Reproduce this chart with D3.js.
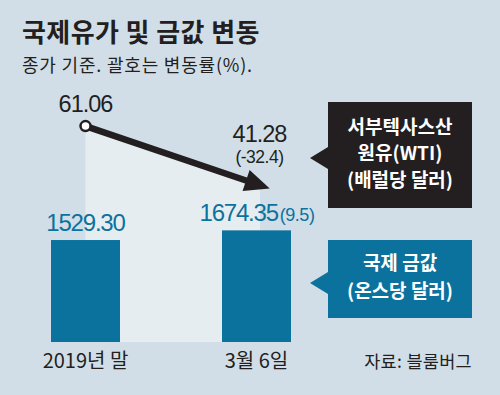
<!DOCTYPE html>
<html><head><meta charset="utf-8">
<script src="https://cdn.jsdelivr.net/npm/d3@7/dist/d3.min.js"></script>
<style>
html,body{margin:0;padding:0;background:#d1dde6;}
svg{display:block;}
</style></head>
<body>
<script>
// ---- data ----
const categories = ["2019년 말", "3월 6일"];
const goldValues = [1529.30, 1674.35];
const goldChange = [null, 9.5];
const oilValues = [61.06, 41.28];
const oilChange = [null, -32.4];
const titleText = "국제유가 및 금값 변동";
const subtitleText = "종가 기준. 괄호는 변동률(%).";
const oilLegend = ["서부텍사스산", "원유(WTI)", "(배럴당 달러)"];
const goldLegend = ["국제 금값", "(온스당 달러)"];
const sourceText = "자료: 블룸버그";

const W = 500, H = 395;
const KR = "'Noto Sans CJK KR', 'Noto Sans', sans-serif";
const NUM = "'Liberation Sans', Arial, sans-serif";
const BLUE = "#0b729e", DARK = "#231f20";

const svg = d3.select("body").append("svg").attr("width", W).attr("height", H);
svg.append("rect").attr("width", W).attr("height", H).attr("fill", "#d2dee7");

const x = d3.scalePoint().domain(categories).range([85.5, 256.5]);
const barW = 69;
const yGold = d3.scaleLinear().domain([0, 5000]).range([342, 8.6]);
const yOil = d3.scaleLinear().domain([0, 100]).range([305, 12]);

// title
svg.append("text").attr("x", 22).attr("y", 42).text(titleText)
  .attr("font-family", KR).attr("font-weight", 700).attr("font-size", 26).attr("letter-spacing", 0.4).attr("fill", DARK);
svg.append("text").attr("x", 22).attr("y", 72).text(subtitleText)
  .attr("font-family", KR).attr("font-size", 18).attr("letter-spacing", 0.8).attr("fill", DARK);

// light area under oil line
const oilPts = categories.map((c, i) => [x(c), yOil(oilValues[i])]);
const area = d3.area().x(d => d[0]).y0(yGold(0)).y1(d => d[1]);
const areaPts = [oilPts[0], [oilPts[1][0] + 3.5, oilPts[1][1] + 3.5 * (oilPts[1][1] - oilPts[0][1]) / (oilPts[1][0] - oilPts[0][0])]];
svg.append("path").attr("d", area(areaPts)).attr("fill", "#e5edf1");

// gold bars
svg.selectAll(".bar").data(goldValues).join("rect")
  .attr("x", (d, i) => x(categories[i]) - barW / 2)
  .attr("y", d => yGold(d))
  .attr("width", barW)
  .attr("height", d => yGold(0) - yGold(d))
  .attr("fill", BLUE);

// gold labels
goldValues.forEach((v, i) => {
  const t = svg.append("text").attr("font-family", NUM).attr("fill", BLUE)
    .attr("y", yGold(v) - 9).attr("font-size", 24).attr("letter-spacing", -1.2);
  if (goldChange[i] == null) {
    t.attr("x", x(categories[i])).attr("text-anchor", "middle").text(v.toFixed(2));
  } else {
    t.attr("x", x(categories[i]) - 57).attr("text-anchor", "start");
    t.append("tspan").text(v.toFixed(2));
    t.append("tspan").attr("font-size", 18).attr("dx", 2).attr("letter-spacing", -0.5).text("(" + goldChange[i].toFixed(1) + ")");
  }
});

// oil arrow
const [p0, p1] = oilPts;
const ang = Math.atan2(p1[1] - p0[1], p1[0] - p0[0]);
const tip = [p1[0] + 14 * Math.cos(ang), p1[1] + 14 * Math.sin(ang)];
const headLen = 25, headHalf = 11;
const base = [tip[0] - headLen * Math.cos(ang), tip[1] - headLen * Math.sin(ang)];
const nx = -Math.sin(ang), ny = Math.cos(ang);
svg.append("line").attr("x1", p0[0]).attr("y1", p0[1]).attr("x2", base[0] + 3 * Math.cos(ang)).attr("y2", base[1] + 3 * Math.sin(ang))
  .attr("stroke", DARK).attr("stroke-width", 6.5);
svg.append("path").attr("d", d3.line()([tip, [base[0] + nx * headHalf, base[1] + ny * headHalf], [base[0] - nx * headHalf, base[1] - ny * headHalf]]) + "Z")
  .attr("fill", DARK);
svg.append("circle").attr("cx", p0[0]).attr("cy", p0[1]).attr("r", 5)
  .attr("fill", "#fff").attr("stroke", DARK).attr("stroke-width", 2.5);

// oil labels
svg.append("text").attr("x", p0[0]).attr("y", p0[1] - 14).attr("text-anchor", "middle")
  .attr("font-family", NUM).attr("font-size", 23.5).attr("letter-spacing", -1).attr("fill", DARK)
  .text(oilValues[0].toFixed(2));
svg.append("text").attr("x", p1[0] + 3).attr("y", 142).attr("text-anchor", "middle")
  .attr("font-family", NUM).attr("font-size", 23.5).attr("letter-spacing", -1).attr("fill", DARK)
  .text(oilValues[1].toFixed(2));
svg.append("text").attr("x", p1[0] + 3).attr("y", 163).attr("text-anchor", "middle")
  .attr("font-family", NUM).attr("font-size", 17.5).attr("letter-spacing", -0.5).attr("fill", DARK)
  .text("(" + oilChange[1].toFixed(1) + ")");

// category labels
svg.selectAll(".cat").data(categories).join("text")
  .attr("x", d => x(d)).attr("y", 368).attr("text-anchor", "middle")
  .attr("font-family", KR).attr("font-size", 20).attr("fill", DARK).text(d => d);

// callouts
function callout(y0, y1, tipY, color, lines, baselines) {
  const g = svg.append("g");
  g.append("path").attr("d", d3.line()([[328, y0], [472, y0], [472, y1], [328, y1], [328, tipY + 11], [310, tipY], [328, tipY - 11]]) + "Z")
    .attr("fill", color);
  lines.forEach((l, i) => g.append("text").attr("x", 400).attr("y", baselines[i]).attr("text-anchor", "middle")
    .attr("font-family", KR).attr("font-weight", 700).attr("font-size", 19).attr("fill", "#fff").text(l));
}
callout(102, 208, 158, DARK, oilLegend, [134, 160, 187]);
callout(240, 318, 283, BLUE, goldLegend, [270, 298]);

// source
svg.append("text").attr("x", 472).attr("y", 368).attr("text-anchor", "end")
  .attr("font-family", KR).attr("font-size", 17.5).attr("letter-spacing", 0.3).attr("fill", DARK).text(sourceText);
</script>
</body></html>
